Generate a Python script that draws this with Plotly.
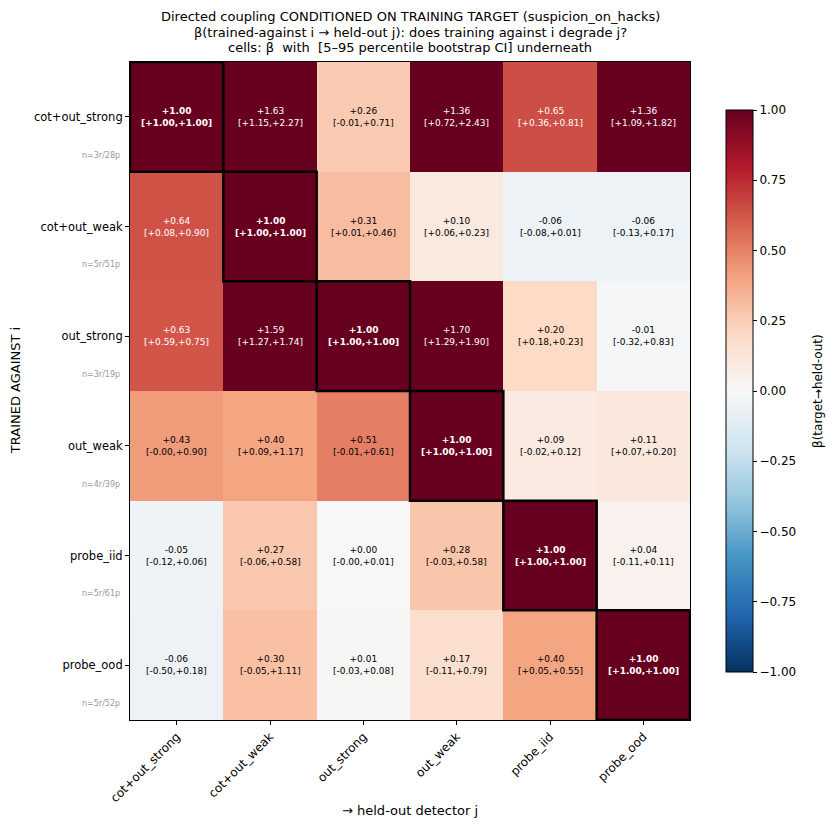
import plotly.graph_objects as go

detectors = ["cot+out_strong", "cot+out_weak", "out_strong", "out_weak", "probe_iid", "probe_ood"]
n_labels = ["n=3r/28p", "n=5r/51p", "n=3r/19p", "n=4r/39p", "n=5r/61p", "n=5r/52p"]

beta = [
    [1.00, 1.63, 0.26, 1.36, 0.65, 1.36],
    [0.64, 1.00, 0.31, 0.10, -0.06, -0.06],
    [0.63, 1.59, 1.00, 1.70, 0.20, -0.01],
    [0.43, 0.40, 0.51, 1.00, 0.09, 0.11],
    [-0.05, 0.27, 0.00, 0.28, 1.00, 0.04],
    [-0.06, 0.30, 0.01, 0.17, 0.40, 1.00],
]
ci_lo = [
    [1.00, 1.15, -0.01, 0.72, 0.36, 1.09],
    [0.08, 1.00, 0.01, 0.06, -0.08, -0.13],
    [0.59, 1.27, 1.00, 1.29, 0.18, -0.32],
    [-0.0, 0.09, -0.01, 1.00, -0.02, 0.07],
    [-0.12, -0.06, -0.0, -0.03, 1.00, -0.11],
    [-0.50, -0.05, -0.03, -0.11, 0.05, 1.00],
]
ci_hi = [
    [1.00, 2.27, 0.71, 2.43, 0.81, 1.82],
    [0.90, 1.00, 0.46, 0.23, 0.01, 0.17],
    [0.75, 1.74, 1.00, 1.90, 0.23, 0.83],
    [0.90, 1.17, 0.61, 1.00, 0.12, 0.20],
    [0.06, 0.58, 0.01, 0.58, 1.00, 0.11],
    [0.18, 1.11, 0.08, 0.79, 0.55, 1.00],
]
title_lines = [
    "Directed coupling CONDITIONED ON TRAINING TARGET (suspicion_on_hacks)",
    "β(trained-against i → held-out j): does training against i degrade j?",
    "cells: β&nbsp;&nbsp;with&nbsp;&nbsp;[5–95 percentile bootstrap CI] underneath",
]
cbar_ticks = [-1, -0.75, -0.5, -0.25, 0, 0.25, 0.5, 0.75, 1]

rdbu = ["#053061", "#2166ac", "#4393c3", "#92c5de", "#d1e5f0", "#f7f7f7",
        "#fddbc7", "#f4a582", "#d6604d", "#b2182b", "#67001f"]
colorscale = [[i / 10, c] for i, c in enumerate(rdbu)]

FONT = "DejaVu Sans"
n = len(detectors)
idx = list(range(n))

fig = go.Figure(go.Heatmap(
    z=beta, x=idx, y=idx, zmin=-1, zmax=1, colorscale=colorscale,
    hoverinfo="skip",
    colorbar=dict(
        x=1.064, xanchor="left", xref="paper", thickness=27, len=0.854, lenmode="fraction",
        y=0.5, yanchor="middle", ypad=0, xpad=0,
        outlinewidth=1, outlinecolor="black",
        tickmode="array", tickvals=cbar_ticks,
        tickformat=".2f", ticks="outside", ticklen=4, tickcolor="black",
        tickfont=dict(family=FONT, size=12, color="black"),
    ),
))

annotations = []
for i in range(n):
    for j in range(n):
        v = beta[i][j]
        if i == j:
            txt = f"<b>{v:+.2f}</b><br><b>[{ci_lo[i][j]:+.2f},{ci_hi[i][j]:+.2f}]</b>"
        else:
            txt = f"{v:+.2f}<br>[{ci_lo[i][j]:+.2f},{ci_hi[i][j]:+.2f}]"
        col = "white" if abs(v) > 0.6 else "black"
        annotations.append(dict(x=j, y=i, xref="x", yref="y", text=txt, showarrow=False,
                                font=dict(family=FONT, size=9, color=col)))
    annotations.append(dict(x=-0.015, y=i + 0.35, xref="paper", yref="y", text=n_labels[i],
                            showarrow=False, xanchor="right", yanchor="middle",
                            font=dict(family=FONT, size=8, color="#999999")))

for k, line in enumerate(title_lines):
    annotations.append(dict(x=0.5, y=(720 - (17 + 15 * k)) / 658, xref="paper", yref="paper",
                            text=line, showarrow=False, xanchor="center", yanchor="middle",
                            font=dict(family=FONT, size=13, color="black")))

annotations.append(dict(x=-0.205, y=0.5, xref="paper", yref="paper", text="TRAINED AGAINST i",
                        textangle=-90, showarrow=False, xanchor="center", yanchor="middle",
                        font=dict(family=FONT, size=13, color="black")))
annotations.append(dict(x=0.5, y=-0.138, xref="paper", yref="paper", text="→ held-out detector j",
                        showarrow=False, xanchor="center", yanchor="middle",
                        font=dict(family=FONT, size=13, color="black")))
annotations.append(dict(x=(818 - 130) / 560, y=0.5, xref="paper", yref="paper",
                        text="β(target→held-out)", textangle=-90, showarrow=False,
                        xanchor="center", yanchor="middle",
                        font=dict(family=FONT, size=12, color="black")))

shapes = [dict(type="rect", xref="x", yref="y", x0=k - 0.5, x1=k + 0.5, y0=k - 0.5, y1=k + 0.5,
               line=dict(color="black", width=2.5)) for k in range(n)]

fig.update_layout(
    width=834, height=829,
    margin=dict(l=130, r=144, t=62, b=109),
    paper_bgcolor="white", plot_bgcolor="white",
    font=dict(family=FONT, color="black"),
    xaxis=dict(tickmode="array", tickvals=idx, ticktext=detectors, tickangle=-45,
               range=[-0.5, n - 0.5], showline=True, linecolor="black", linewidth=1, mirror=True,
               ticks="outside", ticklen=4, tickcolor="black", showgrid=False, zeroline=False,
               tickfont=dict(family=FONT, size=12, color="black")),
    yaxis=dict(tickmode="array", tickvals=idx, ticktext=detectors,
               range=[n - 0.5, -0.5], showline=True, linecolor="black", linewidth=1, mirror=True,
               ticks="outside", ticklen=4, tickcolor="black", showgrid=False, zeroline=False,
               tickfont=dict(family=FONT, size=11.5, color="black")),
    annotations=annotations,
    shapes=shapes,
)

fig.write_html("out.html", config={"displayModeBar": False},
               post_script="document.body.style.margin='0';document.body.style.overflow='hidden';")
